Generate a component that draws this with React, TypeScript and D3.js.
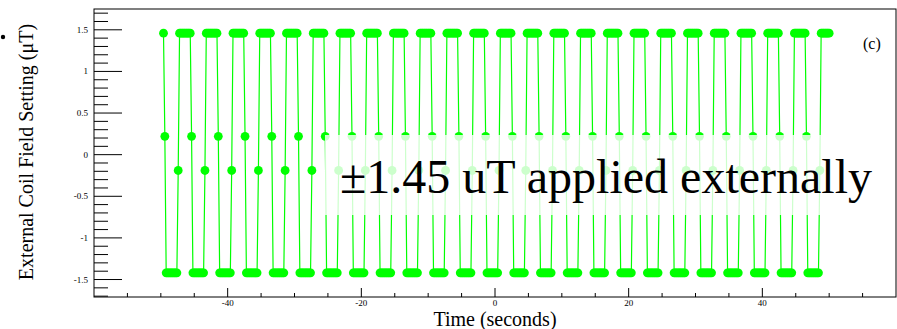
import * as d3 from "d3";

const WIDTH = 897;
const HEIGHT = 329;
const FRAME = { left: 94, right: 896, top: 9, bottom: 297 };

// levels (uT)
const HIGH = 1.46;
const LOW = -1.42;
const MID_DOWN = 0.22;
const MID_UP = -0.19;

// times (s) of the single samples caught mid-switch
const downTimes = [
  -49.4, -45.4, -41.4, -37.4, -33.4, -29.4, -25.4, -21.4, -17.4, -13.4, -9.4, -5.4, -1.4,
  2.6, 6.6, 10.6, 14.6, 18.6, 22.6, 26.6, 30.6, 34.6, 38.6, 42.6, 46.6,
];
const upTimes = [
  -47.4, -43.4, -39.4, -35.4, -31.4, -27.4, -23.4, -19.4, -15.4, -11.4, -7.4, -3.4, 0.6,
  4.6, 8.6, 12.6, 16.6, 20.6, 24.6, 28.6, 32.6, 36.6, 40.6, 44.6, 48.6,
];
const START_TIME = -49.6;
const END_TIME = 50.0;
const SAMPLE_STEP = 0.2;

const xMajorTicks = [-40, -20, 0, 20, 40];
const xMinorTicks = [-55, -50, -45, -35, -30, -25, -15, -10, -5, 5, 10, 15, 25, 30, 35, 45, 50, 55];
const yMajorTicks = [-1.5, -1, -0.5, 0, 0.5, 1, 1.5];
const yMinorTicks = [
  -1.7, -1.6, -1.4, -1.3, -1.2, -1.1, -0.9, -0.8, -0.7, -0.6, -0.4, -0.3, -0.2, -0.1,
  0.1, 0.2, 0.3, 0.4, 0.6, 0.7, 0.8, 0.9, 1.1, 1.2, 1.3, 1.4, 1.6, 1.7,
];

type Pt = { t: number; v: number };

// plateau samples between the switch points
const buildSeries = (): Pt[] => {
  const pts: Pt[] = [{ t: START_TIME, v: HIGH }];
  const plateau = (from: number, to: number, v: number) => {
    const n = Math.round((to - from) / SAMPLE_STEP);
    for (let i = 0; i <= n; i++) pts.push({ t: from + i * SAMPLE_STEP, v });
  };
  downTimes.forEach((d, k) => {
    const u = upTimes[k];
    pts.push({ t: d, v: MID_DOWN });
    plateau(d + SAMPLE_STEP, u - SAMPLE_STEP, LOW);
    pts.push({ t: u, v: MID_UP });
    const next = k + 1 < downTimes.length ? downTimes[k + 1] - SAMPLE_STEP : END_TIME;
    plateau(u + SAMPLE_STEP, next, HIGH);
  });
  return pts;
};

const fmt = (v: number) => (v === 0 ? "0" : String(v));

const SERIF = { fontFamily: "'Liberation Serif', 'Times New Roman', Times, serif" };

export default function App() {
  const data = buildSeries();

  const x = d3.scaleLinear().domain([-60, 60]).range([FRAME.left, FRAME.right]);
  const y = d3.scaleLinear().domain([-1.71, 1.75]).range([FRAME.bottom, FRAME.top]);

  const linePath = d3
    .line<Pt>()
    .x((d) => x(d.t))
    .y((d) => y(d.v))(data);

  return (
    <svg
      width={WIDTH}
      height={HEIGHT}
      style={{ position: "absolute", left: 0, top: 0, background: "#fff" }}
    >
      <rect x={0} y={0} width={WIDTH} height={HEIGHT} fill="#fff" />

      {/* series */}
      <path d={linePath || ""} fill="none" stroke="#00ff00" strokeWidth={1.2} />
      {data.map((d, i) => (
        <circle key={i} cx={x(d.t)} cy={y(d.v)} r={4.4} fill="#00ff00" />
      ))}

      {/* frame */}
      <rect
        x={FRAME.left}
        y={FRAME.top}
        width={FRAME.right - FRAME.left}
        height={FRAME.bottom - FRAME.top}
        fill="none"
        stroke="#000"
        strokeWidth={1}
      />

      {/* y axis */}
      {yMajorTicks.map((v) => (
        <g key={"ym" + v}>
          <line x1={FRAME.left} x2={FRAME.left + 28} y1={y(v)} y2={y(v)} stroke="#000" />
          <text x={88} y={y(v) + 3} fontSize={9} textAnchor="end" style={SERIF}>
            {fmt(v)}
          </text>
        </g>
      ))}
      {yMinorTicks.map((v) => (
        <line key={"yn" + v} x1={FRAME.left} x2={FRAME.left + 14} y1={y(v)} y2={y(v)} stroke="#000" />
      ))}

      {/* x axis */}
      {xMajorTicks.map((v) => (
        <g key={"xm" + v}>
          <line x1={x(v)} x2={x(v)} y1={FRAME.bottom} y2={FRAME.bottom - 9} stroke="#000" />
          <text x={x(v)} y={306} fontSize={9} textAnchor="middle" style={SERIF}>
            {fmt(v)}
          </text>
        </g>
      ))}
      {xMinorTicks.map((v) => (
        <line key={"xn" + v} x1={x(v)} x2={x(v)} y1={FRAME.bottom} y2={FRAME.bottom - 4} stroke="#000" />
      ))}

      {/* annotation box */}
      <rect x={325} y={135} width={560} height={80} fill="#fff" fillOpacity={0.8} />
      <text x={340} y={193} fontSize={48} style={SERIF}>
        ±1.45 uT applied externally
      </text>

      <text x={863} y={49} fontSize={16} style={SERIF}>
        (c)
      </text>

      <text x={495} y={326} fontSize={20} textAnchor="middle" style={SERIF}>
        Time (seconds)
      </text>
      <text transform="translate(33,152) rotate(-90)" fontSize={20} textAnchor="middle" style={SERIF}>
        External Coil Field Setting (μT)
      </text>

      <circle cx={3} cy={37} r={2.2} fill="#000" />
    </svg>
  );
}
